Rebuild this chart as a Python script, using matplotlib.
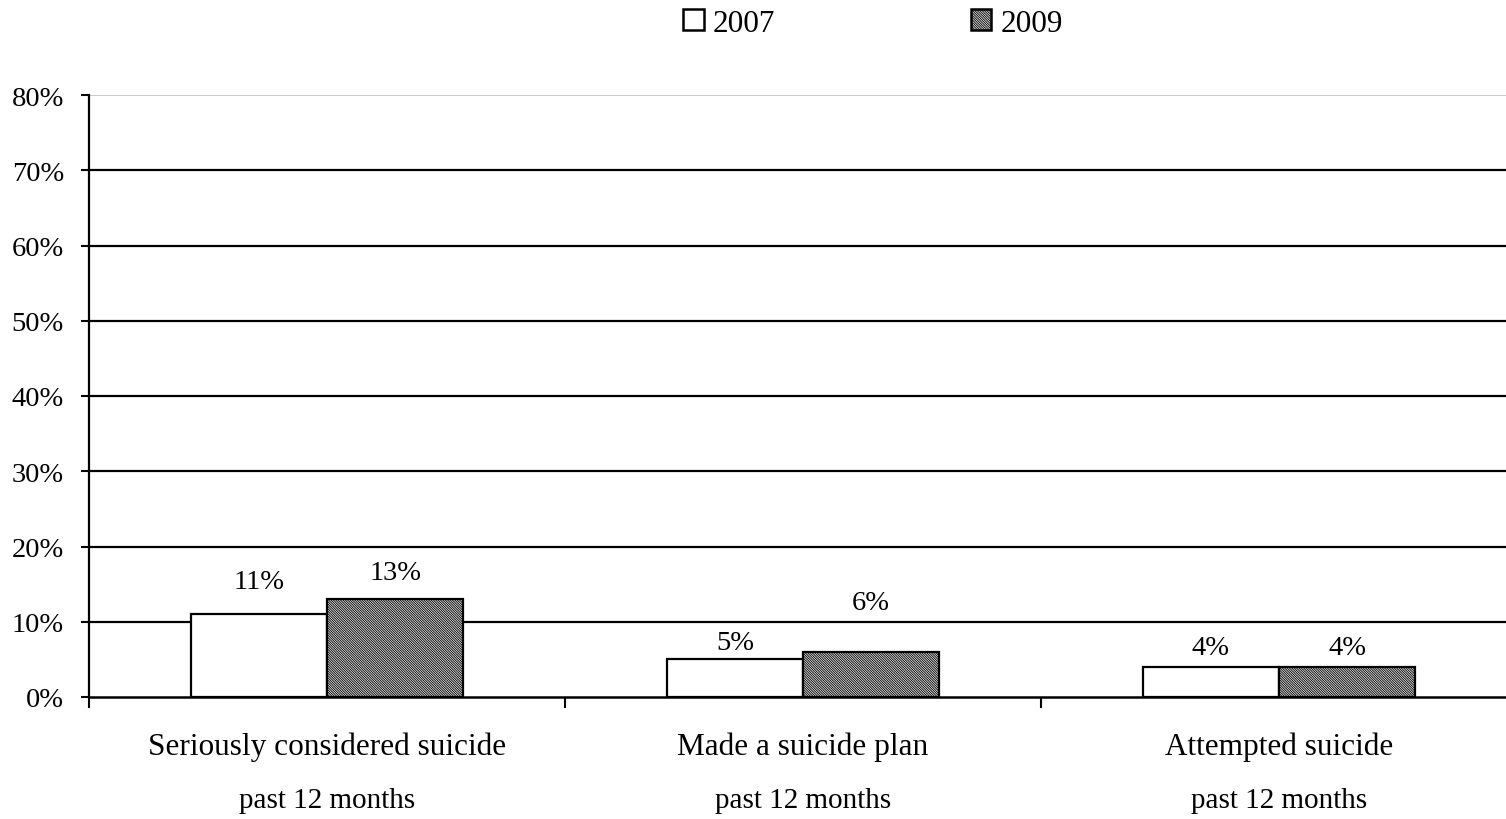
import matplotlib
matplotlib.use("Agg")
import matplotlib.pyplot as plt
from matplotlib.patches import Patch
from matplotlib.transforms import blended_transform_factory

plt.rcParams["font.family"] = ["Liberation Serif", "DejaVu Serif"]
plt.rcParams["hatch.linewidth"] = 0.6
plt.rcParams["hatch.color"] = "#5a5a5a"

categories = ["Seriously considered suicide", "Made a suicide plan", "Attempted suicide"]
subtitle = "past 12 months"
years = ["2007", "2009"]
values_2007 = [11, 5, 4]
values_2009 = [13, 6, 4]
# label heights (in %) as they sit in the original
label_y_2007 = [15.3, 7.3, 6.6]
label_y_2009 = [16.6, 12.6, 6.6]
yticks = [0, 10, 20, 30, 40, 50, 60, 70, 80]

HATCH = "\\" * 14
GRAY = "#e2e2e2"

fig = plt.figure(figsize=(15.06, 8.2), dpi=100)
ax = fig.add_axes([89 / 1506, 122 / 820, 1417 / 1506, 602 / 820])

w = 0.286
x = list(range(len(categories)))
ax.bar([i - w / 2 for i in x], values_2007, width=w, facecolor="white",
       edgecolor="black", linewidth=1.6, zorder=3)
ax.bar([i + w / 2 for i in x], values_2009, width=w, facecolor=GRAY,
       edgecolor="black", linewidth=1.6, hatch=HATCH, zorder=3)

for i in x:
    ax.text(i - w / 2, label_y_2007[i], f"{values_2007[i]}%", ha="center",
            va="center", fontsize=20.5, zorder=4)
    ax.text(i + w / 2, label_y_2009[i], f"{values_2009[i]}%", ha="center",
            va="center", fontsize=20.5, zorder=4)

ax.set_ylim(0, 80)
ax.set_xlim(-0.5, -0.5 + 1417 / 476)
ax.set_yticks(yticks)
ax.set_yticklabels([f"{t}%" for t in yticks], fontsize=20.5)
for t in yticks[1:-1]:
    ax.axhline(t, color="black", linewidth=1.6, zorder=1)
ax.axhline(80, color="#c0c0c0", linewidth=1.2, zorder=1)

ax.set_xticks([-0.5, 0.5, 1.5])
ax.set_xticklabels([])
ax.tick_params(axis="x", direction="out", length=8, width=1.5)
ax.tick_params(axis="y", direction="out", length=6, width=1.5, pad=12)

for s in ["top", "right"]:
    ax.spines[s].set_visible(False)
ax.spines["left"].set_linewidth(1.6)
ax.spines["bottom"].set_linewidth(1.8)
ax.spines["bottom"].set_zorder(5)

trans = blended_transform_factory(ax.transData, fig.transFigure)
for i, c in enumerate(categories):
    ax.text(i, 1 - 747 / 820, c, transform=trans, ha="center", va="center", fontsize=22.5)
    ax.text(i, 1 - 801 / 820, subtitle, transform=trans, ha="center", va="center", fontsize=21)

handles = [Patch(facecolor="white", edgecolor="black", linewidth=1.8),
           Patch(facecolor=GRAY, edgecolor="black", linewidth=1.8, hatch=HATCH)]
fig.legend(handles, years, loc="center", bbox_to_anchor=(873 / 1506, 1 - 24 / 820),
           ncol=2, frameon=False, fontsize=22.5, handlelength=0.65, handleheight=0.65,
           handletextpad=0.3, columnspacing=6.25)

fig.savefig("out.png", dpi=100)
